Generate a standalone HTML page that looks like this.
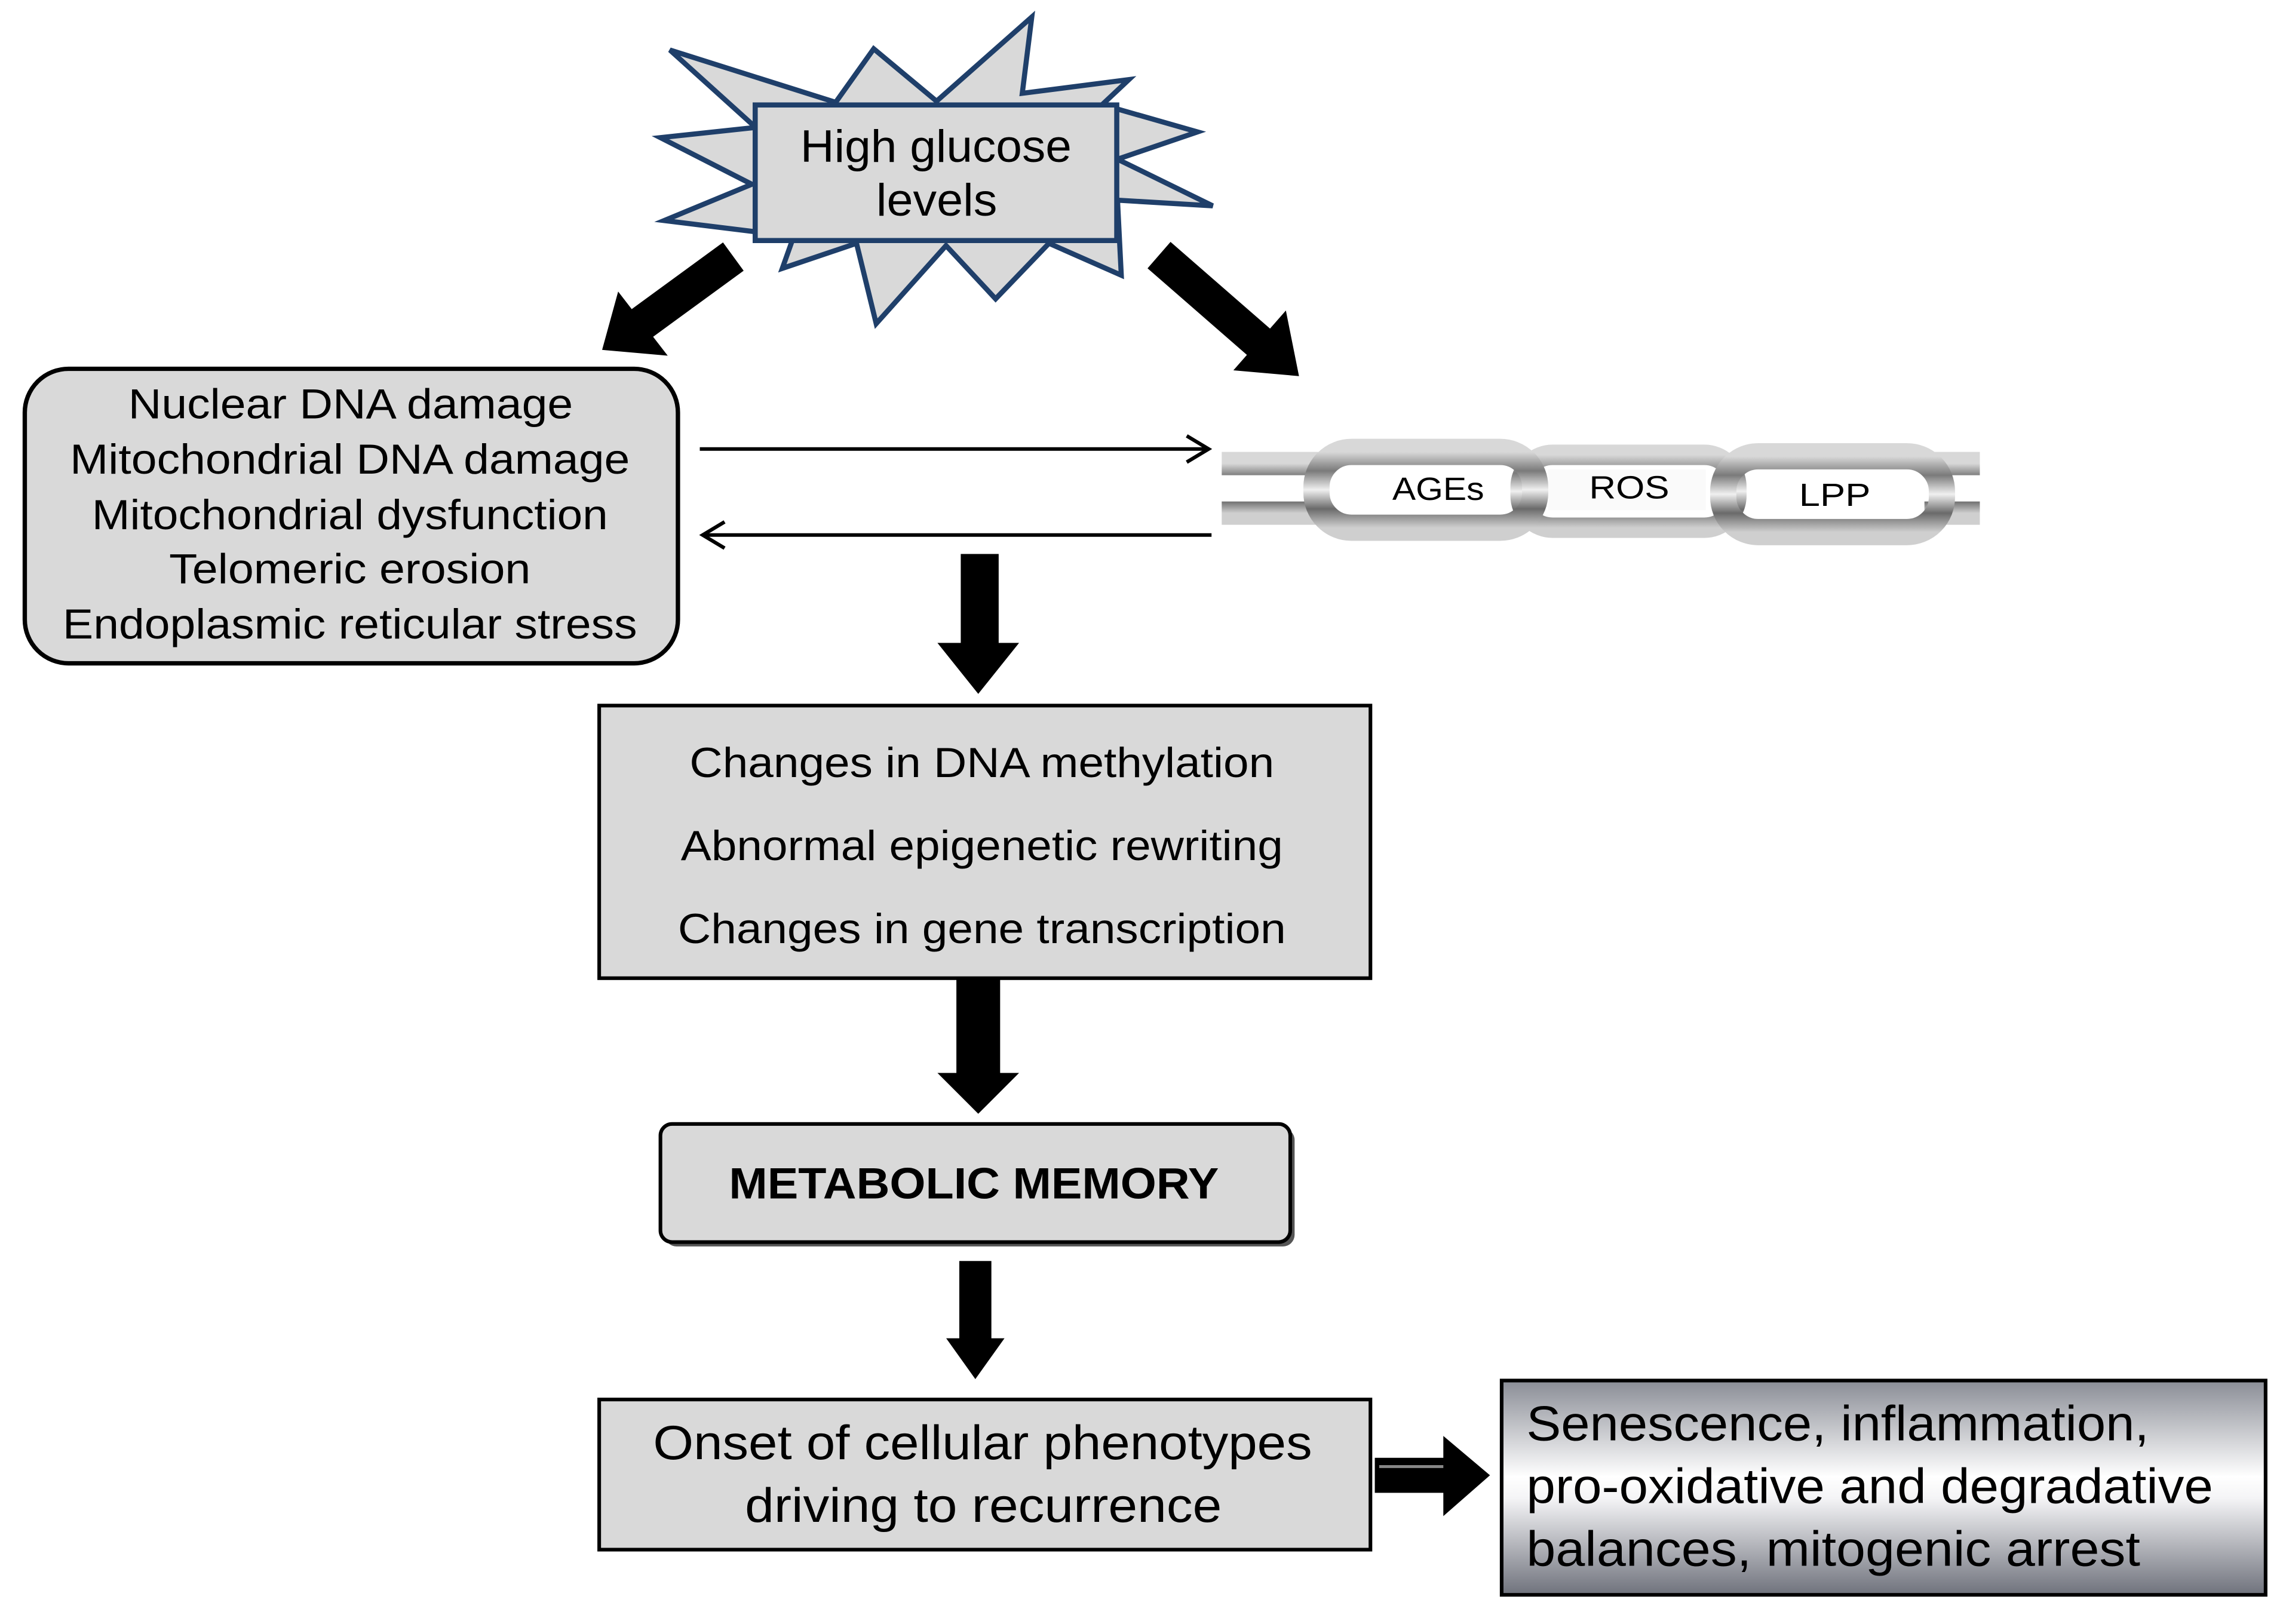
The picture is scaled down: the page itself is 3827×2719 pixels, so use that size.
<!DOCTYPE html>
<html><head><meta charset="utf-8"><style>html,body{margin:0;padding:0;background:#fff}svg{display:block}text{font-family:"Liberation Sans",Arial,sans-serif}</style></head>
<body>
<svg width="3827" height="2719" viewBox="0 0 1568 1114" preserveAspectRatio="none" xmlns="http://www.w3.org/2000/svg">
<defs>
<linearGradient id="met" x1="0" y1="0" x2="0" y2="1">
<stop offset="0" stop-color="#8a8d96"/><stop offset="0.45" stop-color="#ffffff"/><stop offset="0.55" stop-color="#f4f4f6"/><stop offset="1" stop-color="#6f727c"/>
</linearGradient>
<linearGradient id="chain" x1="0" y1="0" x2="0" y2="1">
<stop offset="0" stop-color="#d8d8d8"/><stop offset="0.25" stop-color="#7a7a7a"/><stop offset="0.5" stop-color="#f0f0f0"/><stop offset="0.75" stop-color="#6a6a6a"/><stop offset="1" stop-color="#cfcfcf"/>
</linearGradient>
</defs>
<rect width="1568" height="1114" fill="#fff"/>
<!-- star -->
<polygon points="459.5,34.3 573.2,70.2 599.3,33.5 642.4,69.4 707.7,11.7 701.2,64 774.3,54.6 756,71.8 821.4,90.5 766.5,109.2 831.8,141.2 766.5,137.3 769.1,188.8 719.5,166.9 682.9,205 648.9,168.5 601,222 587.5,166.9 536.6,184.1 544.4,162.2 455.6,151.3 515.7,126.4 453,94.4 518.3,87.4" fill="#d9d9d9" stroke="#1f3f6a" stroke-width="3.5" stroke-linejoin="miter"/>
<rect x="518" y="72" width="248" height="93" fill="#d9d9d9" stroke="#1f3f6a" stroke-width="3.5"/>
<text x="549" y="111" font-size="31" textLength="186" lengthAdjust="spacingAndGlyphs">High glucose</text>
<text x="601" y="148" font-size="31" textLength="83" lengthAdjust="spacingAndGlyphs">levels</text>
<!-- diagonal arrows -->
<line x1="503" y1="176" x2="440" y2="222" stroke="#000" stroke-width="24"/>
<polygon points="413,240 424,200 458,244" fill="#000"/>
<line x1="795" y1="175" x2="865" y2="236" stroke="#000" stroke-width="24"/>
<polygon points="891,258 846,254 882,213" fill="#000"/>
<!-- left box -->
<rect x="17" y="253" width="448" height="202" rx="30" fill="#d9d9d9" stroke="#000" stroke-width="3"/>
<g font-size="29">
<text x="88" y="287" textLength="305" lengthAdjust="spacingAndGlyphs">Nuclear DNA damage</text>
<text x="48" y="325" textLength="384" lengthAdjust="spacingAndGlyphs">Mitochondrial DNA damage</text>
<text x="63" y="363" textLength="354" lengthAdjust="spacingAndGlyphs">Mitochondrial dysfunction</text>
<text x="116" y="400" textLength="248" lengthAdjust="spacingAndGlyphs">Telomeric erosion</text>
<text x="43" y="438" textLength="394" lengthAdjust="spacingAndGlyphs">Endoplasmic reticular stress</text>
</g>
<!-- thin arrows -->
<line x1="480" y1="308" x2="828" y2="308" stroke="#000" stroke-width="2.5"/>
<polyline points="814,299 829,308 814,317" fill="none" stroke="#000" stroke-width="2.5"/>
<line x1="482" y1="367" x2="831" y2="367" stroke="#000" stroke-width="2.5"/>
<polyline points="497,358 482,367 497,376" fill="none" stroke="#000" stroke-width="2.5"/>
<!-- chain -->
<g fill="none" stroke="url(#chain)">
<path d="M838,318 L905,318 M838,352 L905,352" stroke-width="16"/>
<rect x="1043" y="312" width="148" height="50" rx="22" stroke-width="14"/>
<path d="M1320,318 L1358,318 M1320,352 L1358,352" stroke-width="16"/>
<rect x="903" y="310" width="150" height="52" rx="24" stroke-width="18"/>
<rect x="1182" y="313" width="150" height="52" rx="24" stroke-width="18"/>
</g>
<rect x="925" y="323" width="105" height="28" fill="#fff"/>
<rect x="1062" y="322" width="108" height="28" fill="#fafafa"/>
<rect x="1204" y="326" width="106" height="28" fill="#fff"/>
<g font-size="22">
<text x="955" y="343" textLength="63" lengthAdjust="spacingAndGlyphs">AGEs</text>
<text x="1090" y="342" textLength="55" lengthAdjust="spacingAndGlyphs">ROS</text>
<text x="1234" y="347" textLength="49" lengthAdjust="spacingAndGlyphs">LPP</text>
</g>
<!-- arrow 1 -->
<rect x="659" y="380" width="26" height="62" fill="#000"/>
<polygon points="643,441 699,441 671,476" fill="#000"/>
<!-- box 2 -->
<rect x="411" y="484" width="529" height="187" fill="#d9d9d9" stroke="#000" stroke-width="2.5"/>
<g font-size="29">
<text x="473" y="533" textLength="401" lengthAdjust="spacingAndGlyphs">Changes in DNA methylation</text>
<text x="467" y="590" textLength="413" lengthAdjust="spacingAndGlyphs">Abnormal epigenetic rewriting</text>
<text x="465" y="647" textLength="417" lengthAdjust="spacingAndGlyphs">Changes in gene transcription</text>
</g>
<!-- arrow 2 -->
<rect x="656" y="672" width="30" height="65" fill="#000"/>
<polygon points="643,736 699,736 671,764" fill="#000"/>
<!-- box 3 -->
<rect x="456" y="774" width="432" height="81" rx="8" fill="#555"/>
<rect x="453" y="771" width="432" height="81" rx="8" fill="#d9d9d9" stroke="#000" stroke-width="2.5"/>
<text x="500" y="822" font-size="30" font-weight="bold" textLength="336" lengthAdjust="spacingAndGlyphs">METABOLIC MEMORY</text>
<!-- arrow 3 -->
<rect x="658" y="865" width="22" height="55" fill="#000"/>
<polygon points="649,918 689,918 669,946" fill="#000"/>
<!-- box 4 -->
<rect x="411" y="960" width="529" height="103" fill="#d9d9d9" stroke="#000" stroke-width="2.5"/>
<g font-size="33">
<text x="448" y="1001" textLength="452" lengthAdjust="spacingAndGlyphs">Onset of cellular phenotypes</text>
<text x="511" y="1044" textLength="327" lengthAdjust="spacingAndGlyphs">driving to recurrence</text>
</g>
<!-- right arrow -->
<polygon points="943,1000 990,1000 990,985 1022,1012 990,1040 990,1024 943,1024" fill="#000"/>
<line x1="946" y1="1006" x2="990" y2="1006" stroke="#888" stroke-width="2"/>
<!-- box 5 -->
<rect x="1030" y="947" width="524" height="147" fill="url(#met)" stroke="#000" stroke-width="2.5"/>
<g font-size="34">
<text x="1047" y="988" textLength="427" lengthAdjust="spacingAndGlyphs">Senescence, inflammation,</text>
<text x="1047" y="1031" textLength="471" lengthAdjust="spacingAndGlyphs">pro-oxidative and degradative</text>
<text x="1047" y="1074" textLength="421" lengthAdjust="spacingAndGlyphs">balances, mitogenic arrest</text>
</g>
</svg>
</body></html>
